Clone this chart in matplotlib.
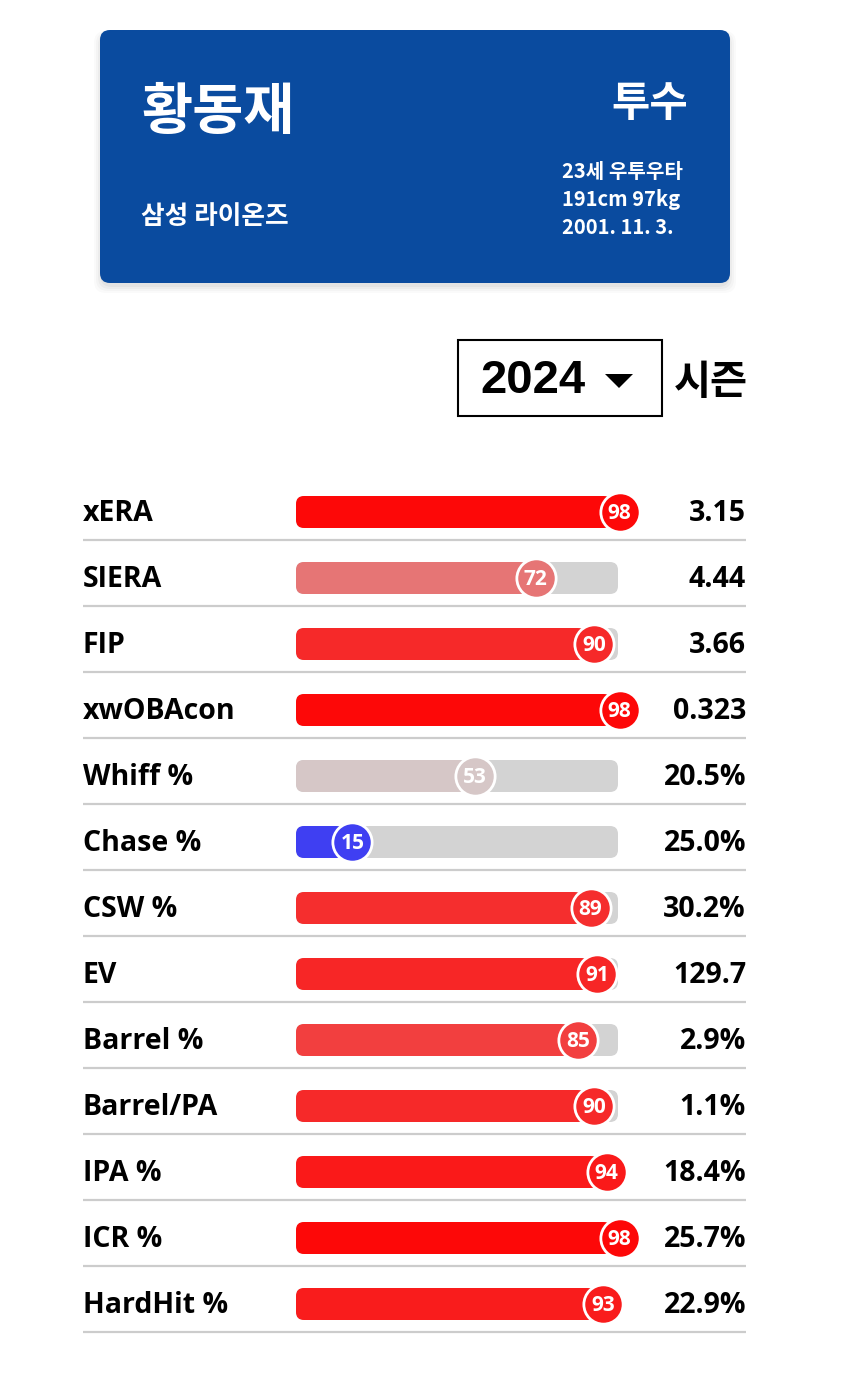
import numpy as np
import matplotlib
matplotlib.use('Agg')
import matplotlib.pyplot as plt
from matplotlib.patches import FancyBboxPatch, Polygon, Rectangle
from matplotlib.colors import LinearSegmentedColormap

plt.rcParams['font.family'] = ['Noto Sans CJK KR', 'DejaVu Sans']
LATIN = ['Open Sans', 'Noto Sans CJK KR']

# ── Data ─────────────────────────────────────────────────────────────────────
player_name = '황동재'
position = '투수'
team = '삼성 라이온즈'
info_lines = ['23세 우투우타', '191cm 97kg', '2001. 11. 3.']
season = '2024'

metrics = ['xERA', 'SIERA', 'FIP', 'xwOBAcon', 'Whiff %', 'Chase %', 'CSW %',
           'EV', 'Barrel %', 'Barrel/PA', 'IPA %', 'ICR %', 'HardHit %']
percentiles = [98, 72, 90, 98, 53, 15, 89, 91, 85, 90, 94, 98, 93]
values = ['3.15', '4.44', '3.66', '0.323', '20.5%', '25.0%', '30.2%',
          '129.7', '2.9%', '1.1%', '18.4%', '25.7%', '22.9%']

# percentile colour scale: blue -> light grey -> red
pct_cmap = LinearSegmentedColormap.from_list('pct', ['#0000FF', '#D3D3D3', '#FF0000'])

W, H = 850, 1395
fig = plt.figure(figsize=(W / 100, H / 100), dpi=100)
fig.patch.set_facecolor('white')

# ── Background canvas (pixel coords) for header and season box ────────────
bg = fig.add_axes([0, 0, 1, 1])
bg.set_xlim(0, W)
bg.set_ylim(H, 0)
bg.axis('off')

# card shadow
for k, a in enumerate([0.035, 0.03, 0.025, 0.02]):
    bg.add_patch(FancyBboxPatch((100 - k * 2, 34 - k), 630 + k * 4, 253 + k * 3,
                                boxstyle='round,pad=0,rounding_size=12',
                                fc='black', ec='none', alpha=a, zorder=1))
bg.add_patch(FancyBboxPatch((100, 30), 630, 253,
                            boxstyle='round,pad=0,rounding_size=10',
                            fc='#0A4B9F', ec='none', zorder=2))

bg.text(141, 113, player_name, color='white', fontsize=40, fontweight='bold',
        ha='left', va='center', zorder=3)
bg.text(688, 104, position, color='white', fontsize=30, fontweight='bold',
        ha='right', va='center', zorder=3)
bg.text(141, 217, team, color='white', fontsize=18.5, fontweight='bold',
        ha='left', va='center', zorder=3)
for j, line in enumerate(info_lines):
    bg.text(562, 172 + j * 27.5, line, color='white', fontsize=14.5,
            fontweight='bold', ha='left', va='center', zorder=3)

# season selector
bg.add_patch(Rectangle((458, 340), 204, 76, fc='white', ec='black', lw=1.5, zorder=2))
bg.text(480, 381, season, fontsize=34, fontweight='bold', family='Liberation Sans',
        ha='left', va='center', zorder=3)
bg.add_patch(Polygon([[605, 374], [633, 374], [619, 388]], closed=True,
                     fc='black', ec='none', zorder=3))
bg.text(674, 382, '시즌', fontsize=29, fontweight='bold', ha='left', va='center', zorder=3)

# ── Percentile bars ─────────────────────────────────────────────────────────
px_per_unit = 3.22          # 100 percentile units -> 322 px track
row_px = 66
left_px, right_px = 83, 746
top_px = 512 - row_px / 2
n = len(metrics)
ax = fig.add_axes([left_px / W, 1 - (top_px + n * row_px) / H,
                   (right_px - left_px) / W, n * row_px / H])
x_lo = -(296 - left_px) / px_per_unit
x_hi = 100 + (right_px - 618) / px_per_unit
ax.set_xlim(x_lo, x_hi)
ax.set_ylim(n - 0.5, -0.5)
ax.axis('off')

bar_h = 32 / row_px
r_units = 8 / px_per_unit
m_aspect = (1 / row_px) / (1 / px_per_unit)
knob_offset = 8 / px_per_unit

for i, (name, p, val) in enumerate(zip(metrics, percentiles, values)):
    col = pct_cmap(p / 100)
    ax.add_patch(FancyBboxPatch((0, i - bar_h / 2), 100, bar_h,
                                boxstyle=f'round,pad=0,rounding_size={r_units}',
                                mutation_aspect=m_aspect, fc='#D3D3D3', ec='none', zorder=2))
    ax.add_patch(FancyBboxPatch((0, i - bar_h / 2), p, bar_h,
                                boxstyle=f'round,pad=0,rounding_size={r_units}',
                                mutation_aspect=m_aspect, fc=col, ec='none', zorder=3))
    ax.scatter([p + knob_offset], [i], s=800, color=col, edgecolors='white',
               linewidths=2, zorder=4, clip_on=False)
    ax.text(p + knob_offset, i + 0.02, str(p), color='white', fontsize=15,
            fontweight='bold', family=LATIN, ha='center', va='center', zorder=5)
    ax.text(x_lo, i + 0.02, name, fontsize=20.5, fontweight='bold', family=LATIN,
            ha='left', va='center', zorder=5)
    ax.text(x_hi, i + 0.02, val, fontsize=20.5, fontweight='bold', family=LATIN,
            ha='right', va='center', zorder=5)
    ax.axhline(i + 27.5 / row_px, color='#CCCCCC', lw=1.6, zorder=1)

fig.savefig('out.png', dpi=100, facecolor='white')
